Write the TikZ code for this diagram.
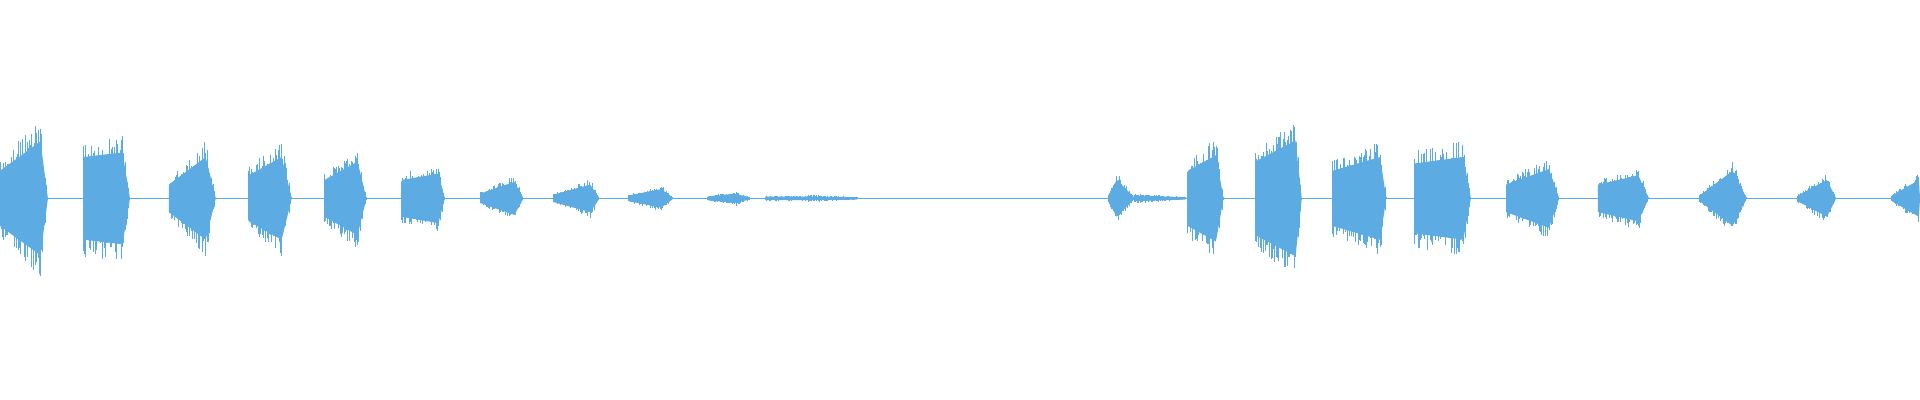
\documentclass[tikz,border=0pt]{standalone}
\definecolor{wavec}{RGB}{93,171,227}
\tikzset{wave/.style={wavec}}
\newcommand\wblob[5]{%
 \fill[wave] (#1,{162-0.75*#4}) -- (#2,{162-0.75*#5}) -- (#3,161) -- (#3,163) -- (#2,{162+0.75*#5}) -- (#1,{162+0.75*#4}) -- cycle;
 \foreach \x in {#1,...,#3}{%
  \pgfmathsetmacro\e{(\x<#2) ? (#4+(#5-#4)*(\x-#1)/(#2-#1)) : (#5*(#3-\x)/(#3-#2)+1)}%
  \pgfmathsetmacro\ra{\e*(0.6+0.45*rnd)}%
  \pgfmathsetmacro\rb{\e*(0.6+0.45*rnd)}%
  \draw[wave,line width=0.6pt] (\x,162-\ra) -- (\x,162+\rb);}%
}
\begin{document}
\begin{tikzpicture}[x=1pt,y=-1pt]
\pgfmathsetseed{7}
\useasboundingbox (0,0) rectangle (1568,326);
\draw[wave,line width=0.7pt] (0,162) -- (1568,162);
\wblob{0}{33}{39}{30}{62}
\wblob{68}{100}{106}{45}{50}
\wblob{138}{168}{176}{15}{45}
\wblob{203}{230}{238}{25}{45}
\wblob{265}{292}{299}{20}{40}
\wblob{328}{358}{363}{20}{27}
\wblob{392}{420}{427}{5}{18}
\wblob{452}{482}{489}{4}{15}
\wblob{513}{540}{549}{3}{10}
\wblob{578}{600}{612}{2}{5}
\wblob{625}{660}{700}{2}{2}
\wblob{905}{912}{926}{3}{20}
\wblob{926}{927}{968}{4}{3}
\wblob{970}{993}{999}{30}{47}
\wblob{1025}{1058}{1063}{40}{63}
\wblob{1088}{1127}{1132}{30}{45}
\wblob{1155}{1195}{1201}{38}{45}
\wblob{1230}{1265}{1273}{15}{32}
\wblob{1305}{1338}{1346}{15}{25}
\wblob{1388}{1415}{1426}{3}{30}
\wblob{1468}{1492}{1499}{3}{20}
\wblob{1545}{1567}{1568}{3}{20}
\end{tikzpicture}
\end{document}
